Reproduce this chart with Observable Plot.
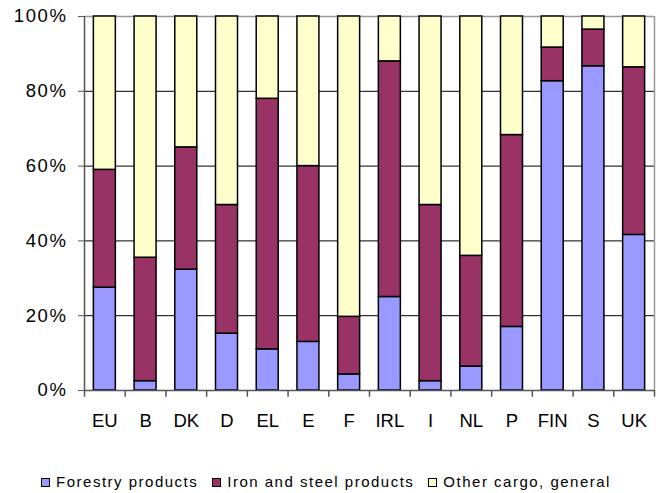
<!DOCTYPE html>
<html>
<head>
<meta charset="utf-8">
<script src="https://cdn.jsdelivr.net/npm/d3@7"></script>
<script src="https://cdn.jsdelivr.net/npm/@observablehq/plot@0.6"></script>
<style>
  body { margin: 0; background: #fff; font-family: "Liberation Sans", Arial, sans-serif; }
  #chart svg { display: block; }
  #chart svg text { font-size: 18.5px; }
  #chart svg g.yaxis text { letter-spacing: 1.6px; }
  .legend { display: flex; justify-content: center; align-items: center; gap: 14px; font-size: 15px; letter-spacing: 1.5px; color: #000; margin-top: 19px; padding-right: 8px; line-height: 16px; }
  .legend span.sw { display: inline-block; width: 7px; height: 7px; border: 1.5px solid #000; margin-right: 6px; vertical-align: 0px; }
</style>
</head>
<body>
<div id="chart"></div>
<script>
const categories = ["EU", "B", "DK", "D", "EL", "E", "F", "IRL", "I", "NL", "P", "FIN", "S", "UK"];
const seriesNames = ["Forestry products", "Iron and steel products", "Other cargo, general"];
const forestry = [27.5, 2.5, 32.3, 15.2, 11, 13, 4.3, 25, 2.5, 6.4, 17, 82.7, 86.7, 41.6];
const ironSteel = [31.5, 33, 32.7, 34.4, 67, 47, 15.4, 63, 47.1, 29.6, 51.3, 9, 9.8, 44.8];
const otherCargo = [41, 64.5, 35, 50.4, 22, 40, 80.3, 12, 50.4, 64, 31.7, 8.3, 3.5, 13.6];
const yTicks = [0, 20, 40, 60, 80, 100];
const colors = ["#9999FF", "#993366", "#FFFFCC"];

const seriesValues = [forestry, ironSteel, otherCargo];
const data = [];
seriesNames.forEach((s, si) => categories.forEach((c, ci) => data.push({cat: c, series: s, value: seriesValues[si][ci]})));

const W = 660, H = 455;
const mL = 84, mR = 6, mT = 16, mB = 65;
const step = (W - mL - mR) / categories.length;
const edgeTicks = categories.map(c => ({cat: c, side: -1})).concat([{cat: categories[categories.length - 1], side: 1}]);
const font = "'Liberation Sans', Arial, sans-serif";

const plot = Plot.plot({
  width: W, height: H,
  marginLeft: mL, marginRight: mR, marginTop: mT, marginBottom: mB,
  style: {fontFamily: font, color: "#000", background: "#fff"},
  x: {domain: categories, paddingInner: 0.46, paddingOuter: 0.23, round: false, label: null},
  y: {domain: [0, 100], label: null},
  color: {domain: seriesNames, range: colors},
  marks: [
    Plot.gridY(yTicks.filter(d => d > 0 && d < 100), {stroke: "#000", strokeOpacity: 1, strokeWidth: 1}),
    Plot.ruleY([100], {stroke: "#999", strokeWidth: 1.5}),
    Plot.ruleX([categories[categories.length - 1]], {dx: step / 2, stroke: "#999", strokeWidth: 1.5}),
    Plot.barY(data, Plot.stackY({x: "cat", y: "value", fill: "series", order: seriesNames, stroke: "#000", strokeWidth: 1.5})),
    Plot.ruleY([0], {stroke: "#555", strokeWidth: 1.5}),
    Plot.ruleX([categories[0]], {dx: -step / 2, stroke: "#555", strokeWidth: 1.5}),
    Plot.axisY({ticks: yTicks, tickFormat: d => d + "%", tickSize: 6, tickPadding: 11, stroke: "#555", label: null, className: "yaxis"}),
    Plot.axisX({tickSize: 0, tickPadding: 23, label: null}),
    ...edgeTicks.map(t => Plot.ruleX([t.cat], {dx: t.side * step / 2, y1: 0, y2: -1.8, stroke: "#555", strokeWidth: 1.5}))
  ]
});
document.getElementById("chart").appendChild(plot);

const legend = document.createElement("div");
legend.className = "legend";
seriesNames.forEach((s, i) => {
  const item = document.createElement("div");
  item.innerHTML = `<span class="sw" style="background:${colors[i]}"></span>${s}`;
  legend.appendChild(item);
});
document.body.appendChild(legend);
</script>
</body>
</html>
